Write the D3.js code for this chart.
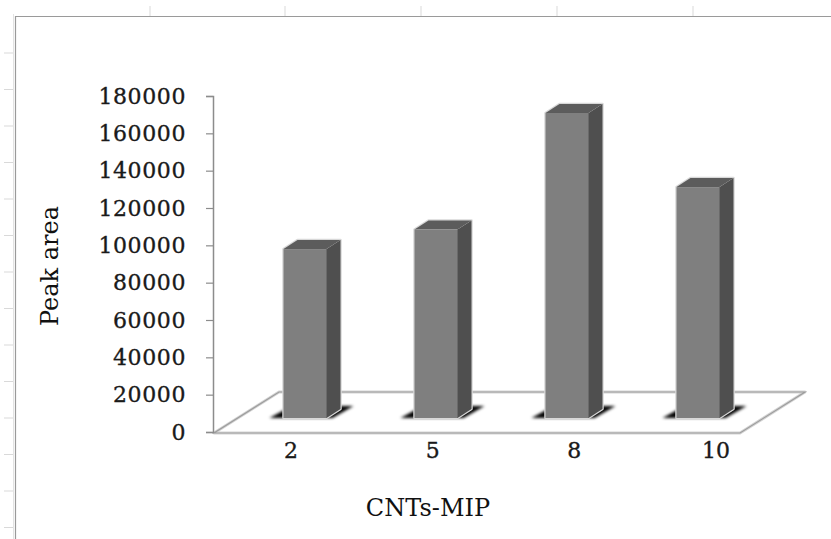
<!DOCTYPE html>
<html>
<head>
<meta charset="utf-8">
<script src="https://cdn.jsdelivr.net/npm/d3@7"></script>
<style>
  html, body { margin: 0; padding: 0; background: #ffffff; }
  svg { display: block; }
</style>
</head>
<body>
<svg id="chart" width="831" height="539"></svg>
<script>
// ---- data ----
const categories = ["2", "5", "8", "10"];
const peakArea = [90500, 101000, 163400, 123700];
const yTicks = [0, 20000, 40000, 60000, 80000, 100000, 120000, 140000, 160000, 180000];
const xTitle = "CNTs-MIP";
const yTitle = "Peak area";

// ---- layout ----
const W = 831, H = 539;
const svg = d3.select("#chart");

const axisX = 213;
const y = d3.scaleLinear().domain([0, 180000]).range([432, 96]);

// floor (oblique projection)
const floorFront = { x0: 214, x1: 740, y: 433 };
const floorDepth = { dx: 65, dy: -41 };
// bar depth placement
const barShift = { dx: 0, dy: -14 };
const barDepth = { dx: 14, dy: -9 };
const barW = 43;

const xBar = d3.scalePoint().domain(categories).range([305, 698]);
const xLab = d3.scalePoint().domain(categories).range([291, 716]);

const defs = svg.append("defs");
defs.append("filter").attr("id", "blur").attr("x", "-20%").attr("y", "-50%").attr("width", "140%").attr("height", "200%")
  .append("feGaussianBlur").attr("stdDeviation", 1.6);

// spreadsheet-like faint marks outside the chart frame
const colMarks = [150, 285, 421, 557, 693];
svg.append("g").selectAll("line").data(colMarks).join("line")
  .attr("x1", d => d).attr("x2", d => d).attr("y1", 6).attr("y2", 16)
  .attr("stroke", "#d9d9d9").attr("stroke-width", 1);
const rowMarks = d3.range(0, 14).map(i => 53 + i * 36.5);
svg.append("g").selectAll("line").data(rowMarks).join("line")
  .attr("x1", 4).attr("x2", 14).attr("y1", d => d).attr("y2", d => d)
  .attr("stroke", "#d9d9d9").attr("stroke-width", 1);

// chart frame
svg.append("path")
  .attr("d", `M15.5,${H + 2} L15.5,16.5 L${W + 2},16.5`)
  .attr("fill", "none").attr("stroke", "#9a9a9a").attr("stroke-width", 1.2);
svg.append("line").attr("x1", 13.5).attr("x2", 13.5).attr("y1", 14).attr("y2", H)
  .attr("stroke", "#e3e3e3").attr("stroke-width", 1);

// floor
const fl = [
  [floorFront.x0, floorFront.y],
  [floorFront.x1, floorFront.y],
  [floorFront.x1 + floorDepth.dx, floorFront.y + floorDepth.dy],
  [floorFront.x0 + floorDepth.dx, floorFront.y + floorDepth.dy]
];
svg.append("polygon")
  .attr("points", fl.map(p => p.join(",")).join(" "))
  .attr("fill", "#ffffff").attr("stroke", "#d4d4d4").attr("stroke-width", 3).attr("stroke-linejoin", "round");
svg.append("polygon")
  .attr("points", fl.map(p => p.join(",")).join(" "))
  .attr("fill", "none").attr("stroke", "#9d9d9d").attr("stroke-width", 1.2);

// y axis
const yAxis = d3.axisLeft(y).tickValues(yTicks).tickSize(7).tickPadding(20).tickFormat(d3.format("d"));
const gy = svg.append("g").attr("transform", `translate(${axisX},0)`).call(yAxis);
gy.select(".domain").attr("stroke", "#8c8c8c").attr("stroke-width", 1.5);
gy.selectAll(".tick line").attr("stroke", "#8c8c8c").attr("stroke-width", 1.2);
gy.selectAll(".tick text")
  .attr("font-family", "'DejaVu Serif', serif").attr("font-size", 22).attr("fill", "#1a1a1a")
  .attr("stroke", "#1a1a1a").attr("stroke-width", 0.35)
  .attr("letter-spacing", 0.6);

// bars
const bars = svg.append("g");
categories.forEach((c, i) => {
  const v = peakArea[i];
  const x0 = xBar(c) - barW / 2 + barShift.dx;
  const x1 = x0 + barW;
  const yb = y(0) + barShift.dy;
  const yt = y(v) + barShift.dy;
  const dx = barDepth.dx, dy = barDepth.dy;
  const g = bars.append("g");
  // shadow
  g.append("polygon")
    .attr("points", [[x0 - 14, yb], [x1 + 6, yb], [x1 + 27, yb - 12], [x0 + 8, yb - 12]].map(p => p.join(",")).join(" "))
    .attr("fill", "#000").attr("filter", "url(#blur)");
  // glow outline
  g.append("polygon")
    .attr("points", [[x0, yb], [x1, yb], [x1 + dx, yb + dy], [x1 + dx, yt + dy], [x0 + dx, yt + dy], [x0, yt]].map(p => p.join(",")).join(" "))
    .attr("fill", "none").attr("stroke", "#d8d8d8").attr("stroke-width", 2.5).attr("stroke-linejoin", "round");
  // side
  g.append("polygon")
    .attr("points", [[x1, yb], [x1 + dx, yb + dy], [x1 + dx, yt + dy], [x1, yt]].map(p => p.join(",")).join(" "))
    .attr("fill", "#4f4f4f");
  // top
  g.append("polygon")
    .attr("points", [[x0, yt], [x1, yt], [x1 + dx, yt + dy], [x0 + dx, yt + dy]].map(p => p.join(",")).join(" "))
    .attr("fill", "#5c5c5c");
  // front
  g.append("rect")
    .attr("x", x0).attr("y", yt).attr("width", barW).attr("height", yb - yt)
    .attr("fill", "#7f7f7f");
  g.append("line").attr("x1", x1).attr("x2", x1).attr("y1", yt).attr("y2", yb)
    .attr("stroke", "#6a6a6a").attr("stroke-width", 1);
});

// category labels
svg.append("g").selectAll("text").data(categories).join("text")
  .attr("x", d => xLab(d)).attr("y", 452)
  .attr("text-anchor", "middle").attr("dominant-baseline", "middle")
  .attr("font-family", "'DejaVu Serif', serif").attr("font-size", 22).attr("fill", "#1a1a1a")
  .attr("stroke", "#1a1a1a").attr("stroke-width", 0.35)
  .text(d => d);

// axis titles
svg.append("text")
  .attr("x", 428).attr("y", 509)
  .attr("text-anchor", "middle").attr("dominant-baseline", "middle")
  .attr("font-family", "'DejaVu Serif', serif").attr("font-size", 24).attr("fill", "#111")
  .text(xTitle);
svg.append("text")
  .attr("transform", "translate(51,266) rotate(-90)")
  .attr("text-anchor", "middle").attr("dominant-baseline", "middle")
  .attr("font-family", "'DejaVu Serif', serif").attr("font-size", 24).attr("fill", "#111")
  .text(yTitle);
</script>
</body>
</html>
